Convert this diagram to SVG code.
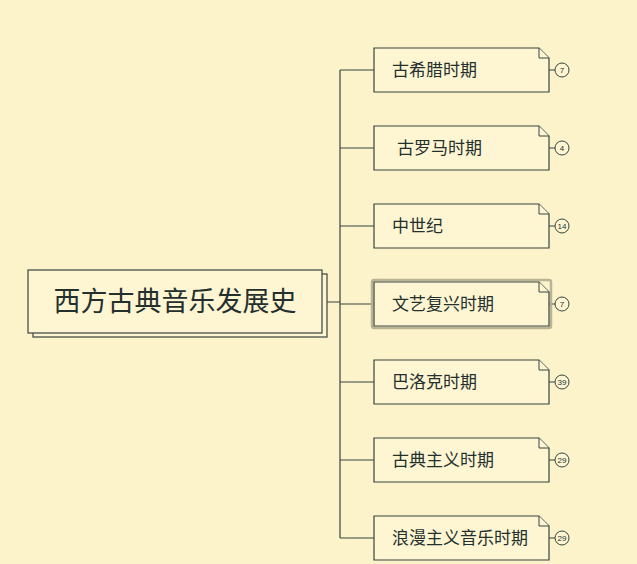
<svg xmlns="http://www.w3.org/2000/svg" width="637" height="564" viewBox="0 0 637 564">
<style>
.bg{fill:#fdf3cb}
.box{fill:#fef6d3;stroke:#37443f;stroke-width:1.2}
.fold{fill:#fef6d3;stroke:#37443f;stroke-width:1}
.ln{fill:none;stroke:#37443f;stroke-width:1.2}
.t{font-family:"Noto Sans CJK SC","Noto Sans",sans-serif;fill:#24302e;font-size:17px;dominant-baseline:central}
.rt{font-family:"Noto Sans CJK SC","Noto Sans",sans-serif;fill:#24302e;font-size:27px;dominant-baseline:central;text-anchor:middle}
.bd{fill:#fef6d3;stroke:#37443f;stroke-width:1}
.bt{font-family:"Liberation Sans",sans-serif;fill:#24302e;font-size:8px;text-anchor:middle;dominant-baseline:central}
</style>
<defs>
<path id="note" d="M0,0 H165 L175,10 V44 H0 Z"/>
</defs>
<rect class="bg" x="0" y="0" width="637" height="564"/>
<g id="connectors">
<path class="ln" d="M322,302 H340 M340,70 V538 M340,70 H374 M340,148 H374 M340,226 H374 M340,304 H374 M340,382 H374 M340,460 H374 M340,538 H374"/>
<path class="ln" d="M549,70 H555 M549,148 H555 M549,226 H555 M549,304 H555 M549,382 H555 M549,460 H555 M549,538 H555"/>
</g>
<g id="root">
<rect class="box" x="33" y="274" width="294" height="63"/>
<rect class="box" x="28" y="270" width="294" height="63"/>
<text class="rt" x="175" y="299">西方古典音乐发展史</text>
</g>
<g id="n1" transform="translate(374,48)">
<use href="#note" class="box"/><path class="fold" d="M165,0 V10 H175"/>
<text class="t" x="18" y="20.5">古希腊时期</text>
<circle class="bd" cx="188" cy="22" r="7"/><text class="bt" x="188" y="22">7</text>
</g>
<g id="n2" transform="translate(374,126)">
<use href="#note" class="box"/><path class="fold" d="M165,0 V10 H175"/>
<text class="t" x="23" y="20.5">古罗马时期</text>
<circle class="bd" cx="188" cy="22" r="7"/><text class="bt" x="188" y="22">4</text>
</g>
<g id="n3" transform="translate(374,204)">
<use href="#note" class="box"/><path class="fold" d="M165,0 V10 H175"/>
<text class="t" x="18" y="20.5">中世纪</text>
<circle class="bd" cx="188" cy="22" r="7"/><text class="bt" x="188" y="22">14</text>
</g>
<g id="n4" transform="translate(374,282)">
<rect x="-2" y="-2" width="179" height="48" rx="2" fill="none" stroke="#b9b496" stroke-width="2.5"/>
<use href="#note" class="box"/><path class="fold" d="M165,0 V10 H175"/>
<text class="t" x="18" y="20.5">文艺复兴时期</text>
<circle class="bd" cx="188" cy="22" r="7"/><text class="bt" x="188" y="22">7</text>
</g>
<g id="n5" transform="translate(374,360)">
<use href="#note" class="box"/><path class="fold" d="M165,0 V10 H175"/>
<text class="t" x="18" y="20.5">巴洛克时期</text>
<circle class="bd" cx="188" cy="22" r="7"/><text class="bt" x="188" y="22">39</text>
</g>
<g id="n6" transform="translate(374,438)">
<use href="#note" class="box"/><path class="fold" d="M165,0 V10 H175"/>
<text class="t" x="18" y="20.5">古典主义时期</text>
<circle class="bd" cx="188" cy="22" r="7"/><text class="bt" x="188" y="22">29</text>
</g>
<g id="n7" transform="translate(374,516)">
<use href="#note" class="box"/><path class="fold" d="M165,0 V10 H175"/>
<text class="t" x="18" y="20.5">浪漫主义音乐时期</text>
<circle class="bd" cx="188" cy="22" r="7"/><text class="bt" x="188" y="22">29</text>
</g>
</svg>
